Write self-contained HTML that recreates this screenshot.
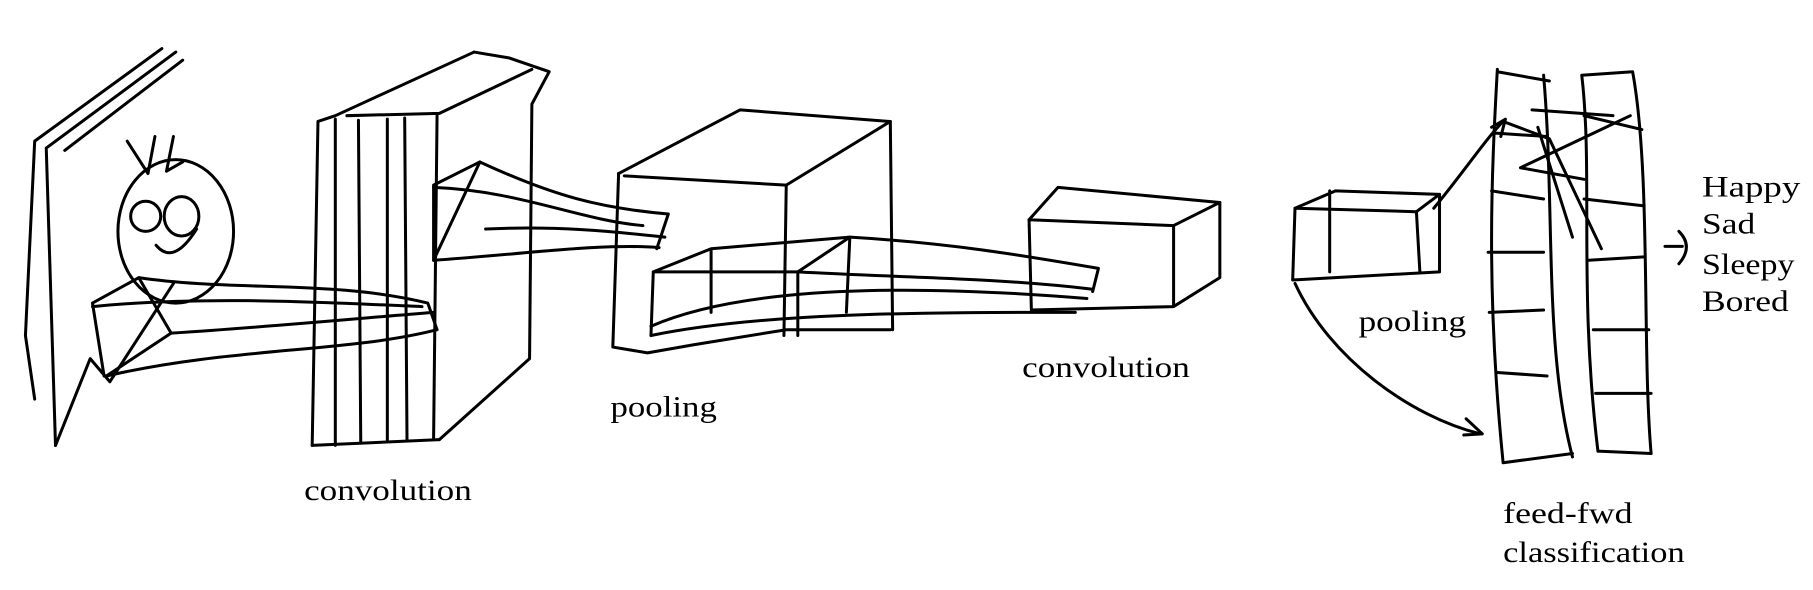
<!DOCTYPE html>
<html><head><meta charset="utf-8"><style>
html,body{margin:0;padding:0;background:#fff;width:1813px;height:590px;overflow:hidden}
svg{display:block}
text{font-family:"Liberation Serif",serif;font-size:26px;fill:#000}
path,ellipse,circle{fill:none;stroke:#000;stroke-width:2.6;stroke-linecap:round;stroke-linejoin:round}
</style></head><body>
<svg width="1813" height="590" viewBox="0 0 1568 510" preserveAspectRatio="none">
<g>
<path d="M140,42 L30,122 L22,290 L30,345"/>
<path d="M152,45 L40,128 L48,385"/>
<path d="M158,52 L56,130"/>
<path d="M48,385 L78,310 L95,330 L150,245"/>
</g>
<g>
<ellipse cx="152" cy="200" rx="50" ry="62"/>
<circle cx="126" cy="187" r="13"/>
<ellipse cx="157" cy="187" rx="15" ry="17"/>
<path d="M135,212 Q150,230 170,198"/>
<path d="M110,122 L128,150 L134,118 M150,118 L144,148 L158,140"/>
</g>
<g>
<path d="M80,262 L120,240 M80,262 L90,325 M148,288 L120,240 M148,288 L92,325"/>
<path d="M120,240 C200,252 290,242 370,262 L378,285"/>
<path d="M80,265 C180,255 290,262 365,265"/>
<path d="M148,288 C240,282 300,276 375,270"/>
<path d="M92,325 C200,300 300,305 378,285"/>
</g>
<g>
<path d="M270,385 L275,105 L290,100 L410,45"/>
<path d="M290,103 L290,385 M310,104 L312,383 M335,103 L335,380 M350,102 L352,380"/>
<path d="M300,100 L380,98 L460,60 M410,45 L440,50 L475,62 L460,90 L458,310 L380,380"/>
<path d="M378,100 L375,380"/>
<path d="M270,385 L380,380"/>
</g>
<g>
<path d="M375,160 L415,140 L375,225 M375,160 L375,225"/>
<path d="M415,140 C480,170 520,180 578,185 L568,215"/>
<path d="M375,162 C450,165 500,190 556,195"/>
<path d="M420,198 C480,195 530,200 575,205"/>
<path d="M375,225 C450,220 520,210 570,214"/>
</g>
<g>
<path d="M535,150 L640,95 L770,105 L680,160 L540,152"/>
<path d="M535,150 L530,300 L560,305 L600,298 L680,285 L770,285"/>
<path d="M680,160 L678,290 M770,105 L772,285"/>
<path d="M565,235 L615,215 L735,205 L690,235 L565,235 M565,235 L563,290 M615,215 L615,270 M735,205 L732,270 M690,235 L690,290"/>
<path d="M735,205 C820,210 880,220 950,232 L945,252"/>
<path d="M690,235 C780,240 860,240 945,250"/>
<path d="M563,290 C660,270 800,270 930,270"/>
<path d="M563,282 C660,240 840,250 940,258"/>
</g>
<g>
<path d="M890,190 L915,162 L1055,175 L1015,195 L890,190"/>
<path d="M890,190 L892,268 L1015,265 L1055,240 L1055,175 M1015,195 L1015,265"/>
</g>
<g>
<path d="M1120,180 L1155,165 L1245,168 L1225,183 L1120,180"/>
<path d="M1120,180 L1118,242 L1245,235 L1245,168 M1225,183 L1228,235 M1150,165 L1150,235"/>
<path d="M1240,180 C1265,150 1285,120 1300,105 M1290,110 L1302,103 L1298,118"/>
<path d="M1120,245 C1150,310 1220,360 1280,375 M1268,362 L1282,375 L1266,376"/>
</g>
<g>
<path d="M1295,60 C1290,150 1285,250 1300,400 M1335,65 C1345,180 1335,300 1360,395 M1295,62 L1340,70 M1300,400 L1360,392"/>
<path d="M1368,65 C1378,150 1365,250 1382,390 M1412,62 C1428,150 1420,300 1428,392 M1368,65 L1412,62 M1382,390 L1428,392"/>
<path d="M1292,115 L1338,118 M1290,165 L1335,172 M1287,218 L1335,218 M1288,270 L1335,268 M1295,322 L1338,325"/>
<path d="M1370,100 L1420,112 M1370,172 L1422,178 M1374,225 L1422,222 M1378,285 L1426,285 M1380,340 L1428,340"/>
<path d="M1300,105 L1340,120 L1385,215 M1315,145 L1410,100 M1315,145 L1370,155 M1325,95 L1395,100 M1330,110 L1360,205"/>
</g>
<g>
<path d="M1440,213 L1455,213 M1452,200 Q1465,213 1452,228"/>
</g>
<text x="263" y="432" textLength="145" lengthAdjust="spacingAndGlyphs">convolution</text>
<text x="528" y="360" textLength="92" lengthAdjust="spacingAndGlyphs">pooling</text>
<text x="884" y="326" textLength="145" lengthAdjust="spacingAndGlyphs">convolution</text>
<text x="1175" y="286" textLength="93" lengthAdjust="spacingAndGlyphs">pooling</text>
<text x="1300" y="452" textLength="112" lengthAdjust="spacingAndGlyphs">feed-fwd</text>
<text x="1300" y="486" textLength="157" lengthAdjust="spacingAndGlyphs">classification</text>
<text x="1472" y="170" textLength="85" lengthAdjust="spacingAndGlyphs">Happy</text>
<text x="1472" y="202" textLength="46" lengthAdjust="spacingAndGlyphs">Sad</text>
<text x="1472" y="237" textLength="80" lengthAdjust="spacingAndGlyphs">Sleepy</text>
<text x="1472" y="269" textLength="75" lengthAdjust="spacingAndGlyphs">Bored</text>
</svg>
</body></html>
